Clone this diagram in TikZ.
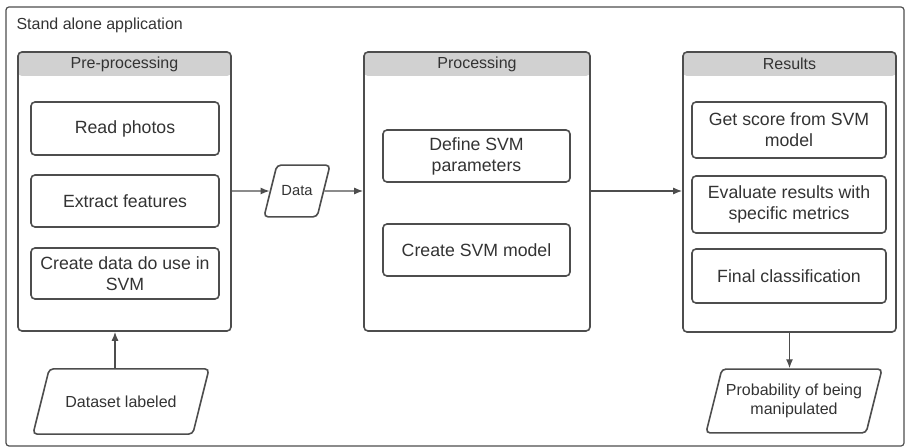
\documentclass[tikz,border=0pt]{standalone}
\usepackage{fontspec}
\setmainfont{Liberation Sans}
\usetikzlibrary{shapes.geometric, arrows.meta}
\definecolor{linegray}{HTML}{4D4D4D}
\definecolor{textgray}{HTML}{333333}
\definecolor{headgray}{HTML}{D1D1D1}

\begin{document}
\begin{tikzpicture}[x=1bp, y=-1bp, >={Latex[length=9bp,width=7bp]},
  frame/.style={draw=linegray, line width=1.2bp, rounded corners=3bp},
  group/.style={draw=linegray, line width=1.6bp, rounded corners=4bp, inner sep=0pt,
    path picture={\fill[headgray] (path picture bounding box.north west)
      rectangle ([yshift=-24bp]path picture bounding box.north east);}},
  head/.style={text=textgray, font=\fontsize{16bp}{19bp}\selectfont},
  box/.style={draw=linegray, line width=1.6bp, rounded corners=4bp, align=center,
    text=textgray, font=\fontsize{17.7bp}{21bp}\selectfont},
  io/.style={draw=linegray, line width=1.6bp, rounded corners=4bp, align=center,
    trapezium, trapezium left angle=76, trapezium right angle=104,
    trapezium stretches body=true, text=textgray,
    font=\fontsize{16bp}{19.5bp}\selectfont},
  arr/.style={->, draw=linegray, line width=1.3bp}]
\useasboundingbox (0, 0) rectangle (908, 448);
\draw[frame] (6, 7) rectangle (904, 446);
\node[head, anchor=west] at (13, 25) (title) {Stand alone application};

% pre-processing
\node[group, minimum width=213bp, minimum height=279bp] at (124.5, 191.5) (pre) {};
\node[head] at (124.5, 64) (prehead) {Pre-processing};
\node[box, minimum width=188bp, minimum height=53bp] at (125, 128.5) (read) {Read photos};
\node[box, minimum width=188bp, minimum height=52bp] at (125, 201) (extract) {Extract features};
\node[box, minimum width=188bp, minimum height=51bp] at (125, 273.5) (createdata) {Create data do use in\\SVM};

% processing
\node[group, minimum width=226bp, minimum height=279bp] at (477, 191.5) (proc) {};
\node[head] at (477, 64) (prochead) {Processing};
\node[box, minimum width=187bp, minimum height=52bp] at (476.5, 156) (define) {Define SVM\\parameters};
\node[box, minimum width=187bp, minimum height=52bp] at (476.5, 250) (createsvm) {Create SVM model};

% results
\node[group, minimum width=213bp, minimum height=280bp] at (789.5, 192) (res) {};
\node[head] at (789.5, 64) (reshead) {Results};
\node[box, minimum width=194bp, minimum height=56bp] at (789, 130) (score) {Get score from SVM\\model};
\node[box, minimum width=194bp, minimum height=57bp] at (789, 204.5) (evaluate) {Evaluate results with\\specific metrics};
\node[box, minimum width=194bp, minimum height=54bp] at (789, 276) (final) {Final classification};

% inputs and outputs (height set by inner ysep so the slant follows the angle)
\node[io, minimum width=66bp, inner ysep=20.7bp, font=\fontsize{14.7bp}{17bp}\selectfont] at (297, 191) (data) {Data};
\node[io, minimum width=176bp, inner ysep=26.7bp] at (121, 401.5) (dataset) {Dataset labeled};
\node[io, minimum width=176bp, inner ysep=14.7bp] at (794, 401) (prob) {Probability of being\\manipulated};

\draw[arr] (pre.east |- data) -- (data);
\draw[arr] (data) -- (proc.west |- data);
\draw[arr] (proc.east |- data) -- (res.west |- data);
\draw[arr] ([xshift=-6bp]dataset.north) -- ([xshift=-6bp]dataset.north |- pre.south);
\draw[arr] (res.south) -- (res.south |- prob.north);
\end{tikzpicture}
\end{document}
